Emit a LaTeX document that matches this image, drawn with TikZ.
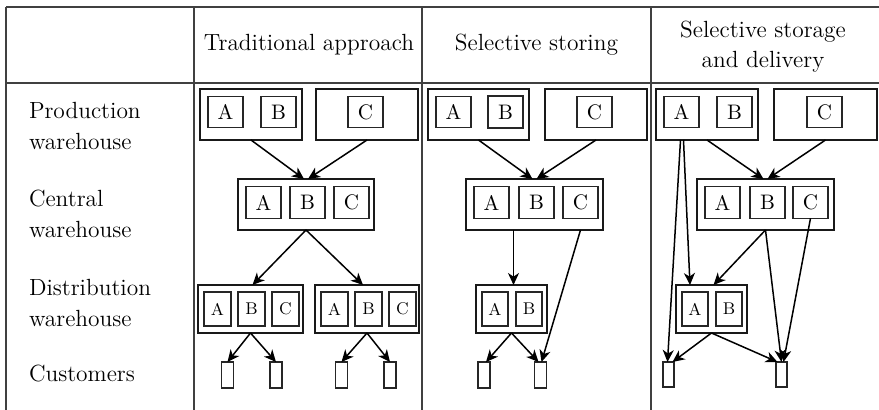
\documentclass[tikz,border=0pt]{standalone}
\usetikzlibrary{arrows.meta,positioning}

\begin{document}
\begin{tikzpicture}[
  x=0.5pt, y=-0.5pt,
  every node/.style={inner sep=0pt, outer sep=0pt},
  tableline/.style={draw=black!75, line width=0.6pt},
  rowtext/.style={anchor=west, align=left, font=\fontsize{11.7}{15.5}\selectfont},
  headtext/.style={align=center, font=\fontsize{11.7}{15}\selectfont},
  whbox/.style={draw=black!90, line width=0.7pt, minimum height=25.5pt},
  stockbox/.style={draw=black!85, line width=0.6pt, minimum width=17.5pt, minimum height=15.75pt, font=\fontsize{10.5}{12}\selectfont},
  smallstock/.style={draw=black!85, line width=0.6pt, minimum width=13.5pt, minimum height=17pt, font=\fontsize{8.5}{10}\selectfont},
  cust/.style={draw=black!85, line width=0.6pt, minimum width=6pt, minimum height=13pt},
  flowarrow/.style={draw, -{Stealth[length=6pt,width=5.5pt,inset=1.8pt]}, line width=0.75pt}
]
\useasboundingbox (0,0) rectangle (879,410);
\draw[tableline] (6,7) -- (879,7) (6,83) -- (879,83);
\foreach \x in {6,194,422,651}
  \draw[tableline] (\x,7) -- (\x,410);

\node[headtext] (h1) at (309,45) {Traditional approach};
\node[headtext] (h2) at (536.5,45) {Selective storing};
\node[headtext] (h3) at (763,47) {Selective storage\\and delivery};

\node[rowtext] (lp) at (29,126.5) {Production\\warehouse};
\node[rowtext] (lc) at (29,214) {Central\\warehouse};
\node[rowtext] (ld) at (29,303) {Distribution\\warehouse};
\node[rowtext] (lu) at (29,374) {Customers};

% traditional approach
\node[whbox, minimum width=51pt] (p1L) at (251,114.5) {};
\node[stockbox] (p1a) at (225.5,112) {A};
\node[stockbox] (p1b) at (278.5,112) {B};
\node[whbox, minimum width=51pt] (p1R) at (367,114.5) {};
\node[stockbox] (p1c) at (365.5,112) {C};
\node[whbox, minimum width=68pt] (c1) at (306,204.5) {};
\node[stockbox] (c1a) at (263.5,202.5) {A};
\node[stockbox] (c1b) at (307.5,202.5) {B};
\node[stockbox] (c1c) at (351.5,202.5) {C};
\node[whbox, minimum width=52.5pt, minimum height=24pt] (d1L) at (250.5,309) {};
\node[smallstock] (d1La) at (217.5,309) {A};
\node[smallstock] (d1Lb) at (251.5,309) {B};
\node[smallstock] (d1Lc) at (285.5,309) {C};
\node[whbox, minimum width=52pt, minimum height=24pt] (d1R) at (367,309) {};
\node[smallstock] (d1Ra) at (334.5,309) {A};
\node[smallstock] (d1Rb) at (368.5,309) {B};
\node[smallstock] (d1Rc) at (402.5,309) {C};
\foreach \x/\n in {227.5/1, 276/2, 341.5/3, 390/4}
  \node[cust] (u1\n) at (\x,375) {};

\draw[flowarrow] (p1L.south) -- ([xshift=-1pt]c1.north);
\draw[flowarrow] (p1R.south) -- ([xshift=1pt]c1.north);
\draw[flowarrow] (c1.south) -- ([xshift=1pt]d1L.north);
\draw[flowarrow] (c1.south) -- ([xshift=-2pt]d1R.north);
\draw[flowarrow] (d1L.south) -- (u11.north);
\draw[flowarrow] (d1L.south) -- (u12.north);
\draw[flowarrow] (d1R.south) -- (u13.north);
\draw[flowarrow] (d1R.south) -- (u14.north);

% selective storing
\node[whbox, minimum width=50.5pt] (p2L) at (478.5,114.5) {};
\node[stockbox] (p2a) at (453.5,112) {A};
\node[stockbox, line width=0.85pt] (p2b) at (505.5,112) {B};
\node[whbox, minimum width=51pt] (p2R) at (596,114.5) {};
\node[stockbox] (p2c) at (594.5,112) {C};
\node[whbox, minimum width=68.5pt] (c2) at (534.5,204.5) {};
\node[stockbox] (c2a) at (491.5,202.5) {A};
\node[stockbox] (c2b) at (536.5,202.5) {B};
\node[stockbox] (c2c) at (580.5,202.5) {C};
\node[whbox, minimum width=35.5pt, minimum height=24pt] (d2) at (511.5,309) {};
\node[smallstock, minimum width=13pt] (d2a) at (495,309) {A};
\node[smallstock, minimum width=13pt] (d2b) at (529,309) {B};
\node[cust] (u21) at (484,375) {};
\node[cust] (u22) at (540.5,375) {};

\draw[flowarrow] (p2L.south) -- ([xshift=-1pt]c2.north);
\draw[flowarrow] (p2R.south) -- ([xshift=1pt]c2.north);
\draw[flowarrow] ([xshift=1pt]d2.north |- c2.south) -- ([xshift=1pt]d2.north);
\draw[flowarrow] (c2c |- c2.south) -- ([xshift=0.5pt]u22.north);
\draw[flowarrow] (d2.south) -- ([xshift=1pt]u21.north);
\draw[flowarrow] (d2.south) -- ([xshift=-1pt]u22.north);

% selective storage and delivery
\node[whbox, minimum width=51pt] (p3L) at (707,114.5) {};
\node[stockbox] (p3a) at (681.5,112) {A};
\node[stockbox] (p3b) at (734.5,112) {B};
\node[whbox, minimum width=51.5pt] (p3R) at (825.5,114.5) {};
\node[stockbox] (p3c) at (824.5,112) {C};
\node[whbox, minimum width=68.5pt] (c3) at (765.5,204.5) {};
\node[stockbox] (c3a) at (722.5,202.5) {A};
\node[stockbox] (c3b) at (767.5,202.5) {B};
\node[stockbox] (c3c) at (810.5,202.5) {C};
\node[whbox, minimum width=35.5pt, minimum height=24pt] (d3) at (711.5,309) {};
\node[smallstock, minimum width=13pt] (d3a) at (695,309) {A};
\node[smallstock, minimum width=13pt] (d3b) at (729,309) {B};
\node[cust, minimum width=5.5pt, minimum height=12.5pt] (u31) at (668.5,374.5) {};
\node[cust, minimum width=5.5pt, minimum height=12.5pt] (u32) at (781.5,374.5) {};

\draw[flowarrow] (p3L.south) -- ([xshift=-1pt]c3.north);
\draw[flowarrow] (p3R.south) -- ([xshift=1pt]c3.north);
\draw[flowarrow] ([xshift=-0.5pt]p3a |- p3L.south) -- ([xshift=-0.5pt]u31.north);
\draw[flowarrow] ([xshift=1pt]p3a |- p3L.south) -- ([xshift=-10.75pt]d3.north);
\draw[flowarrow] (c3.south) -- ([xshift=1pt]d3.north);
\draw[flowarrow] (c3.south) -- (u32.north);
\draw[flowarrow] (c3c.south) -- ([xshift=1pt]u32.north);
\draw[flowarrow] (d3.south) -- ([xshift=2pt]u31.north);
\draw[flowarrow] (d3.south) -- ([xshift=-2pt]u32.north);
\end{tikzpicture}
\end{document}
